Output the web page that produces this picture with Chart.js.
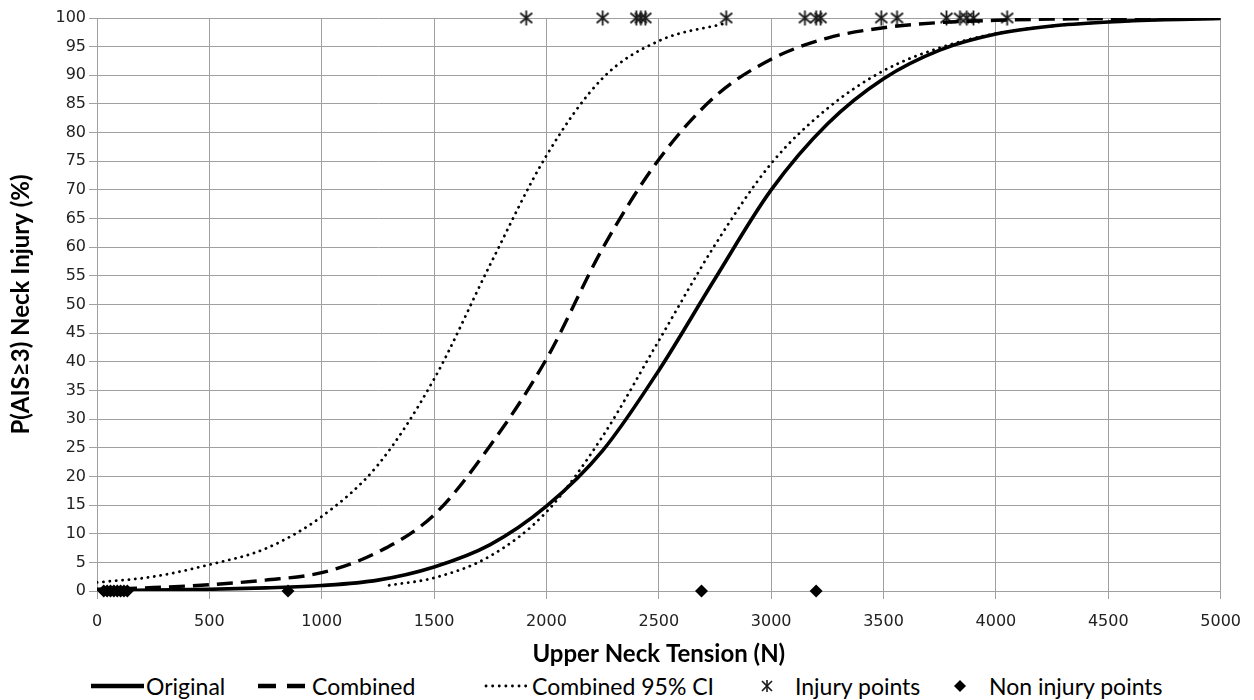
<!DOCTYPE html>
<html>
<head>
<meta charset="utf-8">
<title>Upper neck tension injury risk</title>
<script src="https://cdn.jsdelivr.net/npm/chart.js@4.4.0/dist/chart.umd.min.js"></script>
<style>
  body { margin: 0; background: #fff; }
  #wrap { position: relative; width: 1254px; height: 700px; }
  #chart { position: absolute; left: 0; top: 0; }
  #legend { position: absolute; left: 0; top: 672px; width: 1254px; height: 28px;
            font-family: 'Lato', sans-serif; font-size: 23px; color: #000; }
  .item { position: absolute; top: 0; height: 28px; line-height: 28px; white-space: nowrap; }
  .item svg { position: absolute; top: 0; }
</style>
</head>
<body>
<div id="wrap">
  <canvas id="chart" width="1254" height="672"></canvas>
  <div id="legend"></div>
</div>
<script>
// Tension values (N) the curves were read at
const tensionN = [0, 250, 500, 750, 1000, 1250, 1500, 1750, 2000, 2250, 2500, 2750, 3000, 3250, 3500, 3750, 4000, 4250, 4500, 4750, 5000]
const originalP = [0.05, 0.15, 0.3, 0.55, 0.95, 1.9, 4.2, 8.1, 14.8, 24.5, 38.5, 54.5, 70.0, 81.5, 89.4, 94.4, 97.2, 98.6, 99.3, 99.7, 99.9]
const combinedP = [0.3, 0.6, 1.1, 1.9, 3.2, 6.8, 13.3, 25.4, 40.5, 59.8, 75.3, 86.3, 92.8, 96.5, 98.3, 99.2, 99.6, 99.8, 99.9, 99.95, 100]

// Combined 95% CI, upper and lower bounds
const ciUpperN = [0, 250, 500, 750, 1000, 1250, 1500, 1750, 2000, 2250, 2500, 2800]
const ciUpperP = [1.5, 2.5, 4.6, 7.4, 13.0, 22.0, 37.0, 57.0, 76.0, 89.5, 96.0, 99.1]
const ciLowerN = [1300, 1500, 1750, 2000, 2250, 2500, 2750, 3000, 3250, 3500, 3750, 4000, 4250, 4500, 4750, 5000]
const ciLowerP = [1.0, 2.3, 6.1, 13.8, 27.0, 43.7, 60.4, 74.6, 84.2, 90.8, 94.8, 97.3, 98.6, 99.3, 99.7, 99.9]

// Test data points
const injuryN = [1910, 2250, 2400, 2420, 2440, 2800, 3150, 3200, 3220, 3490, 3560, 3780, 3840, 3870, 3900, 4050]
const injuryP = [100, 100, 100, 100, 100, 100, 100, 100, 100, 100, 100, 100, 100, 100, 100, 100]
const nonInjuryN = [30, 45, 60, 75, 90, 105, 120, 135, 850, 2690, 3200]
const nonInjuryP = [0, 0, 0, 0, 0, 0, 0, 0, 0, 0, 0]

// Axis ticks
const xTicks = [0, 500, 1000, 1500, 2000, 2500, 3000, 3500, 4000, 4500, 5000]
const yTicks = [0, 5, 10, 15, 20, 25, 30, 35, 40, 45, 50, 55, 60, 65, 70, 75, 80, 85, 90, 95, 100]

const GRID = '#a0a0a0'

function pairs(xs, ys) {
  return xs.map((x, i) => ({ x: x, y: ys[i] }))
}

// asterisk marker (X with a vertical stroke)
function makeAsterisk() {
  const c = document.createElement('canvas')
  c.width = 15
  c.height = 17
  const g = c.getContext('2d')
  g.strokeStyle = '#1a1a1a'
  g.lineWidth = 1.8
  g.beginPath()
  g.moveTo(7.5, 1); g.lineTo(7.5, 16)
  g.moveTo(1.5, 3.5); g.lineTo(13.5, 13.5)
  g.moveTo(13.5, 3.5); g.lineTo(1.5, 13.5)
  g.stroke()
  return c
}

const lineBase = {
  borderColor: '#000',
  pointRadius: 0,
  fill: false,
  cubicInterpolationMode: 'monotone'
}

new Chart(document.getElementById('chart'), {
  type: 'line',
  data: {
    datasets: [{
      ...lineBase,
      label: 'Original',
      data: pairs(tensionN, originalP),
      borderWidth: 3.6
    }, {
      ...lineBase,
      label: 'Combined',
      data: pairs(tensionN, combinedP),
      borderWidth: 3.4,
      borderDash: [16, 8]
    }, {
      ...lineBase,
      label: 'Combined 95% CI',
      data: pairs(ciUpperN, ciUpperP),
      borderWidth: 2.8,
      borderDash: [0.1, 6.3],
      borderCapStyle: 'round'
    }, {
      ...lineBase,
      label: 'Combined 95% CI',
      data: pairs(ciLowerN, ciLowerP),
      borderWidth: 2.8,
      borderDash: [0.1, 6.3],
      borderCapStyle: 'round'
    }, {
      label: 'Injury points',
      data: pairs(injuryN, injuryP),
      showLine: false,
      pointStyle: makeAsterisk(),
      pointRadius: 7,
      clip: false
    }, {
      label: 'Non injury points',
      data: pairs(nonInjuryN, nonInjuryP),
      showLine: false,
      pointStyle: 'rectRot',
      pointRadius: 6.5,
      pointBackgroundColor: '#000',
      pointBorderWidth: 0,
      clip: false
    }]
  },
  options: {
    responsive: false,
    animation: false,
    events: [],
    layout: { padding: { top: 18, right: 32, left: 0, bottom: 0 } },
    plugins: {
      legend: { display: false },
      tooltip: { enabled: false }
    },
    scales: {
      x: {
        type: 'linear',
        min: 0,
        max: 5000,
        afterFit: (s) => { s.height = 81 },
        afterBuildTicks: (s) => { s.ticks = xTicks.map(v => ({ value: v })) },
        grid: { color: GRID, tickColor: GRID, tickLength: 8 },
        border: { color: GRID },
        ticks: {
          color: '#222',
          font: { family: 'DejaVu Sans', size: 16 },
          padding: 13,
          maxRotation: 0,
          callback: (v) => String(v)
        },
        title: {
          display: true,
          text: 'Upper Neck Tension (N)',
          color: '#000',
          font: { family: 'Lato', size: 24, weight: 'bold' },
          padding: { top: 0, bottom: 3 }
        }
      },
      y: {
        min: 0,
        max: 100,
        afterFit: (s) => { s.width = 97 },
        afterBuildTicks: (s) => { s.ticks = yTicks.map(v => ({ value: v })) },
        grid: { color: GRID, tickColor: GRID, tickLength: 8 },
        border: { color: GRID },
        ticks: {
          color: '#222',
          font: { family: 'DejaVu Sans', size: 16 },
          padding: 3,
          callback: (v) => String(v)
        },
        title: {
          display: true,
          text: 'P(AIS\u22653) Neck Injury (%)',
          color: '#000',
          font: { family: 'Lato', size: 24, weight: 'bold' },
          padding: { top: 7, bottom: 0 }
        }
      }
    }
  }
})

// Legend row (text kept as real text, icons as small svgs)
const legendItems = [
  { icon: 'solid', iconX: 91, iconW: 53, text: 'Original', textX: 146 },
  { icon: 'dash', iconX: 258, iconW: 48, text: 'Combined', textX: 312 },
  { icon: 'dot', iconX: 484, iconW: 44, text: 'Combined 95% CI', textX: 532 },
  { icon: 'star', iconX: 760, iconW: 14, text: 'Injury points', textX: 795 },
  { icon: 'diamond', iconX: 953, iconW: 14, text: 'Non injury points', textX: 989 }
]

function iconSvg(kind, w) {
  const h = 28, m = 14
  let body = ''
  if (kind === 'solid') body = `<line x1="0" y1="${m}" x2="${w}" y2="${m}" stroke="#000" stroke-width="4.5"/>`
  if (kind === 'dash') body = `<line x1="0" y1="${m}" x2="${w}" y2="${m}" stroke="#000" stroke-width="4.5" stroke-dasharray="18 11"/>`
  if (kind === 'dot') body = `<line x1="2" y1="${m}" x2="${w}" y2="${m}" stroke="#000" stroke-width="2.8" stroke-linecap="round" stroke-dasharray="0.1 6.5"/>`
  if (kind === 'star') body = `<g stroke="#1a1a1a" stroke-width="1.6"><line x1="7" y1="${m - 6}" x2="7" y2="${m + 6}"/><line x1="2" y1="${m - 5}" x2="12" y2="${m + 5}"/><line x1="12" y1="${m - 5}" x2="2" y2="${m + 5}"/></g>`
  if (kind === 'diamond') body = `<polygon points="7,${m - 6} 13,${m} 7,${m + 6} 1,${m}" fill="#000"/>`
  return `<svg width="${w}" height="${h}" viewBox="0 0 ${w} ${h}">${body}</svg>`
}

const legendEl = document.getElementById('legend')
legendItems.forEach(it => {
  const icon = document.createElement('div')
  icon.className = 'item'
  icon.style.left = it.iconX + 'px'
  icon.innerHTML = iconSvg(it.icon, it.iconW)
  legendEl.appendChild(icon)
  const label = document.createElement('div')
  label.className = 'item'
  label.style.left = it.textX + 'px'
  label.textContent = it.text
  legendEl.appendChild(label)
})
</script>
</body>
</html>
